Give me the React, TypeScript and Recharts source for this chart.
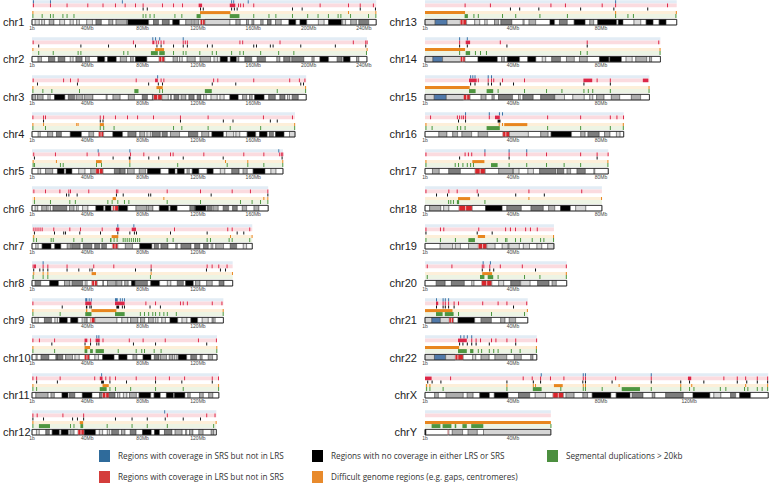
import React from 'react';
import { ComposedChart, XAxis, YAxis, ReferenceArea } from 'recharts';

type Mark = number | [number, number];
type Band = [number, number, string];

// chromosomes and lengths (Mb)
const LEFT_CHROMS = ['chr1', 'chr2', 'chr3', 'chr4', 'chr5', 'chr6', 'chr7', 'chr8', 'chr9', 'chr10', 'chr11', 'chr12'];
const RIGHT_CHROMS = ['chr13', 'chr14', 'chr15', 'chr16', 'chr17', 'chr18', 'chr19', 'chr20', 'chr21', 'chr22', 'chrX', 'chrY'];
const CHROM_LENGTHS: Record<string, number> = {
  chr1: 248.9, chr2: 242.2, chr3: 198.3, chr4: 190.2, chr5: 181.5, chr6: 170.8,
  chr7: 159.3, chr8: 145.1, chr9: 138.4, chr10: 133.8, chr11: 135.1, chr12: 133.3,
  chr13: 114.4, chr14: 107.0, chr15: 102.0, chr16: 90.3, chr17: 83.3, chr18: 80.4,
  chr19: 58.6, chr20: 64.4, chr21: 46.7, chr22: 50.8, chrX: 156.0, chrY: 57.2,
};
const AXIS_TICKS = [0, 40, 80, 120, 160, 200, 240];

// stained cytobands (gneg bands are the gaps)
const BANDS: Record<string, Band[]> = {
  chr1: [[2.3,5.3,'p25'],[7.1,9.1,'p25'],[12.5,15.9,'p50'],[20.1,23.6,'p25'],[27.6,29.9,'p25'],[32.3,34.3,'p25'],[39.6,43.7,'p25'],[46.3,50.2,'p75'],[55.6,58.5,'p50'],[60.8,68.5,'p50'],[69.3,84.4,'p100'],[87.9,91.5,'p75'],[94.3,99.3,'p75'],[101.8,106.7,'p100'],[111.2,115.9,'p50'],[117.1,120.4,'p50'],[121.7,123.4,'acen'],[123.4,125.1,'acen'],[125.1,143.2,'gvar'],[147.5,150.6,'p50'],[155.1,156.6,'p50'],[159.1,160.5,'p50'],[165.5,167.2,'p50'],[170.3,173,'p75'],[176.1,180.3,'p50'],[185.8,190.8,'p100'],[193.8,198.7,'p100'],[207.1,211.3,'p25'],[214.4,223.9,'p100'],[224.4,226.8,'p25'],[230.5,234.6,'p50'],[236.4,243.5,'p75']],
  chr2: [[4.4,6.9,'p50'],[12,16.5,'p75'],[19,23.8,'p75'],[27.7,29.8,'p25'],[31.8,36.3,'p75'],[38.7,41.5,'p50'],[47.5,52.6,'p100'],[54.7,61,'p100'],[63.9,68.4,'p50'],[71.3,73.3,'p50'],[74.8,83.1,'p100'],[91.8,93.9,'acen'],[93.9,96,'acen'],[102.1,105.3,'p50'],[106.7,108.7,'p25'],[112.2,118.1,'p50'],[121.6,129.1,'p50'],[131.7,134.3,'p25'],[136.1,141.5,'p100'],[143.4,147.9,'p100'],[149,149.6,'p25'],[154,158.9,'p75'],[162.9,168.9,'p75'],[177.1,179.3,'p50'],[182.1,186.7,'p75'],[187.9,196.6,'p75'],[202.5,204.1,'p50'],[208.2,214.5,'p100'],[220.7,224.3,'p75'],[225.2,230.1,'p100'],[234.7,236.4,'p50']],
  chr3: [[0,2.8,'p50'],[4,8.1,'p50'],[11.6,13.2,'p25'],[16.3,23.8,'p100'],[26.3,30.8,'p75'],[32,36.5,'p50'],[37.8,44.1,'p50'],[53.7,54.4,'p25'],[58.6,63.8,'p50'],[69.7,74.1,'p50'],[79.8,83.5,'p75'],[87.1,87.8,'p75'],[87.9,90.9,'acen'],[90.9,94,'acen'],[94,98.6,'gvar'],[100.3,100.8,'p25'],[102.8,106.2,'p75'],[107.9,111.3,'p50'],[113.5,117.3,'p75'],[119.5,122.2,'p75'],[124.1,126.1,'p25'],[129.5,134,'p25'],[136,139,'p25'],[143.1,149.2,'p100'],[152.3,155.3,'p50'],[157.3,159.3,'p50'],[161,167.9,'p100'],[171.2,176,'p75'],[179.3,183,'p75'],[184.8,186.3,'p25'],[188.2,192.6,'p75']],
  chr4: [[4.5,6,'p25'],[11.3,15,'p50'],[17.7,21.3,'p75'],[27.7,35.8,'p100'],[41.2,44.6,'p50'],[48.2,50,'acen'],[50,51.8,'acen'],[58.5,65.5,'p100'],[69.4,75.3,'p75'],[78,81.5,'p50'],[83.2,86,'p25'],[87.1,92.8,'p75'],[94.2,97.9,'p75'],[100.1,106.7,'p50'],[113.2,119.9,'p75'],[122.8,127.9,'p50'],[130.1,138.5,'p100'],[140.6,145.9,'p25'],[147.5,150.3,'p25'],[155.6,161.8,'p100'],[164.5,170.1,'p100'],[171.7,174.6,'p75'],[176.1,182.3,'p100'],[186.2,190.2,'p25']],
  chr5: [[4.4,6.3,'p25'],[9.8,15,'p50'],[18.4,23.3,'p100'],[24.6,28.9,'p100'],[33.8,38.4,'p25'],[42.5,46.1,'p50'],[46.1,48.8,'acen'],[48.8,51.4,'acen'],[59.6,63.6,'p75'],[63.9,67.4,'p75'],[69.1,74,'p50'],[77.6,82.1,'p50'],[83.5,93,'p100'],[98.9,103.4,'p100'],[105.1,110.2,'p100'],[112.2,113.8,'p50'],[115.9,120.7,'p100'],[126.6,131.1,'p100'],[136.2,139.5,'p25'],[144.5,149.8,'p75'],[152.7,155.7,'p50'],[159.9,168.5,'p100'],[172.8,176.5,'p25']],
  chr6: [[2.3,4.2,'p25'],[7.1,10.6,'p50'],[11.6,13.4,'p25'],[15.2,25.2,'p75'],[27.1,30.5,'p50'],[32.1,33.5,'p25'],[36.6,40.5,'p25'],[46.2,51.8,'p100'],[53,57.2,'p100'],[58.5,59.8,'acen'],[59.8,62.6,'acen'],[62.7,69.2,'p100'],[75.2,83.2,'p50'],[84.1,87.5,'p50'],[92.1,98.9,'p100'],[100,105,'p100'],[114.2,117.9,'p75'],[118.1,125.8,'p100'],[126.8,130,'p75'],[130.9,134.7,'p50'],[138.3,142.2,'p75'],[145.1,148.5,'p75'],[152.1,155.2,'p50'],[160.6,164.1,'p50']],
  chr7: [[2.8,4.5,'p25'],[7.3,13.8,'p100'],[16.5,20.9,'p100'],[25.5,27.9,'p50'],[28.8,34.9,'p75'],[37.1,43.3,'p75'],[45.4,49,'p75'],[50.5,53.9,'p75'],[58.1,60.1,'acen'],[60.1,62.1,'acen'],[67.5,72.7,'p50'],[77.9,86.7,'p100'],[88.5,91.5,'p75'],[93.3,98.4,'p75'],[104,105.1,'p50'],[107.8,115,'p75'],[117.7,121.4,'p75'],[124.1,127.5,'p75'],[129.6,130.8,'p25'],[132.9,138.5,'p50'],[143.4,148,'p75'],[152.8,155.2,'p25']],
  chr8: [[2.3,6.3,'p75'],[12.8,19.2,'p100'],[23.5,27.5,'p50'],[29,36.7,'p75'],[38.5,39.9,'p25'],[43.2,45.2,'acen'],[45.2,47.2,'acen'],[51.3,51.7,'p75'],[54.6,60.6,'p50'],[61.3,65.1,'p50'],[67.1,69.6,'p50'],[72,74.6,'p100'],[74.7,83.5,'p75'],[85.9,92.3,'p100'],[97.9,100.5,'p25'],[105.1,109.5,'p75'],[111.1,116.7,'p100'],[118.3,121.5,'p50'],[126.3,130.4,'p50'],[135.4,138.9,'p75']],
  chr9: [[2.2,4.6,'p25'],[9,14.2,'p75'],[16.6,18.5,'p25'],[19.9,25.6,'p100'],[28,33.2,'p100'],[36.3,37.9,'p25'],[39,40,'p50'],[42.2,43,'acen'],[43,45.5,'acen'],[45.5,61.5,'gvar'],[65,69.3,'p25'],[71.3,76.6,'p50'],[78.5,81.5,'p50'],[84.3,87.8,'p50'],[89.2,91.2,'p25'],[93.9,96.5,'p25'],[99.8,105.4,'p100'],[108.5,112.1,'p25'],[114.9,119.8,'p100'],[123.1,127.5,'p25'],[130.3,130.5,'p25'],[131.4,132.5,'p25']],
  chr10: [[3,3.8,'p25'],[6.6,12.2,'p75'],[17.3,18.3,'p75'],[18.4,22.3,'p75'],[24.3,29.3,'p50'],[31.1,34.2,'p25'],[38,39.8,'acen'],[39.8,41.6,'acen'],[45.5,48.1,'p25'],[51.1,59.4,'p100'],[62.8,68.8,'p100'],[73.1,75.9,'p50'],[80.3,86.1,'p100'],[88.5,91.9,'p75'],[92.9,97.3,'p50'],[99.3,101.9,'p50'],[103,104.9,'p25'],[105.8,111.9,'p100'],[114.9,119.1,'p75'],[121.7,123.1,'p50'],[127.5,130.6,'p50']],
  chr11: [[2.8,11.7,'p50'],[13.8,16.2,'p50'],[21.7,26.1,'p100'],[27.2,31,'p75'],[36.4,43.4,'p100'],[48.8,51,'p75'],[51,53.4,'acen'],[53.4,55.8,'acen'],[55.8,60.1,'p75'],[61.9,63.6,'p25'],[66.1,68.7,'p25'],[70.5,75.5,'p50'],[77.4,85.9,'p100'],[88.3,92.8,'p100'],[97.2,102.3,'p100'],[103,110.6,'p100'],[112.7,114.5,'p50'],[121.2,123.9,'p50'],[127.8,130.8,'p50']],
  chr12: [[3.2,5.3,'p25'],[10,12.6,'p75'],[14.6,19.8,'p100'],[21.1,26.3,'p100'],[27.6,30.5,'p50'],[33.2,35.5,'acen'],[35.5,37.8,'acen'],[37.8,46,'p100'],[48.7,51.1,'p25'],[54.5,56.2,'p25'],[57.7,62.7,'p75'],[64.7,67.3,'p50'],[71.1,75.3,'p75'],[79.9,86.3,'p100'],[88.6,92.2,'p100'],[95.8,101.2,'p75'],[103.5,108.6,'p50'],[111.1,111.9,'p25'],[113.9,116.4,'p50'],[120.7,123.8,'p50'],[129.6,131.6,'p50']],
  chr13: [[0,4.6,'gvar'],[4.6,10.1,'stalk'],[10.1,16,'gvar'],[16,17.3,'acen'],[17.3,18.9,'acen'],[22.6,24.9,'p25'],[27.2,28.3,'p25'],[31.6,33.4,'p50'],[34.5,39.5,'p75'],[44.6,45.1,'p25'],[47.3,50.3,'p50'],[56.8,58.9,'p100'],[61.1,64.7,'p75'],[67.8,72.8,'p100'],[74.9,76.7,'p50'],[78.5,87.1,'p100'],[87.9,90,'p100'],[95,98.1,'p25'],[100.5,103.7,'p100'],[106.4,109.6,'p100']],
  chr14: [[0,3.6,'gvar'],[3.6,8,'stalk'],[8,16.1,'gvar'],[16.1,17.2,'acen'],[17.2,18.2,'acen'],[24.1,32.9,'p100'],[34.8,36.1,'p50'],[37.4,43,'p100'],[46.7,50.4,'p100'],[53.3,54.9,'p25'],[57.6,61.6,'p75'],[64.3,67.9,'p50'],[70.2,73.8,'p50'],[79.3,83.6,'p100'],[84,89.3,'p100'],[91.4,94.2,'p25'],[95.8,100.8,'p50'],[102,103,'p50']],
  chr15: [[0,4.2,'gvar'],[4.2,9.7,'stalk'],[9.7,17.5,'gvar'],[17.5,19,'acen'],[19,20.5,'acen'],[25.5,27.8,'p50'],[30.5,31.5,'p50'],[33.4,39.8,'p75'],[42.5,43.3,'p25'],[44.5,49.2,'p75'],[52.6,58.8,'p75'],[59,63.4,'p25'],[67.2,72.4,'p25'],[74.9,76.3,'p25'],[78,81.4,'p50'],[84.7,88.5,'p50'],[93.8,98,'p50']],
  chr16: [[6.3,10,'p50'],[12.6,14.8,'p50'],[16.8,21.2,'p50'],[24.2,28.5,'p50'],[35.3,36.8,'acen'],[36.8,38.4,'acen'],[38.4,47,'gvar'],[52.6,56,'p50'],[57.3,66.6,'p100'],[70.8,72.8,'p50'],[74.1,79.2,'p75'],[81.6,84.1,'p50'],[87,88.7,'p25']],
  chr17: [[3.4,6.5,'p50'],[10.8,16.1,'p75'],[22.7,25.1,'acen'],[25.1,27.4,'acen'],[33.5,39.8,'p50'],[40.2,42.8,'p25'],[46.8,49.3,'p25'],[52.1,59.5,'p75'],[60.2,63.1,'p75'],[64.6,66.2,'p50'],[69.1,72.9,'p75'],[76.8,77.2,'p25']],
  chr18: [[2.1,7.2,'p50'],[8.5,10.9,'p25'],[15.4,18.5,'acen'],[18.5,21.5,'acen'],[27.5,35.1,'p100'],[37.2,43.8,'p75'],[48.2,53.8,'p75'],[56.2,59,'p50'],[61.6,66.1,'p100'],[68.5,73.1,'p25']],
  chr19: [[6.9,12.6,'p25'],[13.8,16.1,'p25'],[19.8,24.2,'gvar'],[24.2,26.2,'acen'],[26.2,28.1,'acen'],[28.1,31.9,'gvar'],[35.1,37.8,'p25'],[38.2,42.9,'p25'],[44.7,47.5,'p25'],[50.9,53.1,'p25'],[55.8,58.6,'p25']],
  chr20: [[5.1,9.2,'p75'],[12,17.9,'p75'],[21.3,22.3,'p25'],[25.7,28.1,'acen'],[28.1,30.4,'acen'],[33.5,35.8,'p25'],[39,43.1,'p75'],[43.5,47.8,'p25'],[51.2,56.4,'p75'],[57.8,59.7,'p50']],
  chr21: [[0,3.1,'gvar'],[3.1,7,'stalk'],[7,10.9,'gvar'],[10.9,12,'acen'],[12,13,'acen'],[15,22.6,'p100'],[25.5,30.2,'p75'],[34.4,36.4,'p50'],[38.3,41.2,'p50']],
  chr22: [[0,4.3,'gvar'],[4.3,9.4,'stalk'],[9.4,13.7,'gvar'],[13.7,15,'acen'],[15,17.4,'acen'],[21.7,23.1,'p25'],[25.5,29.2,'p50'],[31.8,37.2,'p50'],[40.6,43.8,'p50'],[48.1,49.1,'p50']],
  chrX: [[4.4,6.1,'p50'],[9.6,17.4,'p50'],[19.2,21.9,'p50'],[24.9,29.3,'p100'],[31.5,37.8,'p100'],[42.5,47.6,'p75'],[50.1,54.8,'p25'],[58.1,60.6,'acen'],[60.6,63,'acen'],[64.1,67.8,'p50'],[71.8,73.9,'p50'],[76,84.5,'p100'],[86.9,93.2,'p100'],[94.2,99.1,'p75'],[103.3,104.5,'p50'],[109.4,117.4,'p75'],[121.8,129.5,'p100'],[131.3,134.5,'p25'],[138.9,141.2,'p75'],[143,148,'p100']],
  chrY: [[0,0.5,'p100'],[10.3,10.6,'acen'],[10.6,10.9,'acen'],[12.4,17.1,'p50'],[19.6,23.8,'p50'],[26.6,57.2,'gvar']],
};

// Regions with coverage in SRS but not in LRS (blue)
const SRS_ONLY: Record<string, Mark[]> = {
  chr1: [0.7, 13, 65, 144, 145.5, 156],
  chr2: [87, 89, 92, 109],
  chr3: [90.5],
  chr4: [],
  chr5: [47.5, 70.4, 178.1],
  chr6: [],
  chr7: [61.7, 73.3],
  chr8: [7.7],
  chr9: [[38.5, 40], 41, 42.5, [60, 62], 63.5, 65, 66.5],
  chr10: [46.5, 48],
  chr11: [50],
  chr12: [95.6],
  chr13: [86.4],
  chr14: [15.5, 19],
  chr15: [20.5, 21.5, 22.5, 28.5, 30],
  chr16: [18.2, 29, 33.6, 35],
  chr17: [27, 38, 46],
  chr18: [],
  chr19: [],
  chr20: [26.2, 29.5],
  chr21: [5, 8, 9, 10.5],
  chr22: [16, 17.5, 19, 21],
  chrX: [52.6, 71.7, 72.7, 102.6],
  chrY: [],
};

// Regions with coverage in LRS but not in SRS (red)
const LRS_ONLY: Record<string, Mark[]> = {
  chr1: [0.7, 13, 25, 40, 51, 60, 67, 74.5, 80, 94, 102, 108.5, [120.5, 123], [143, 147], 149, 150.5, 152.5, 160, 208, 228.5, 237, 246.5],
  chr2: [0.5, 73, [87, 88.5], 89.5, 91, 93, 95, 109, 110.5, 112, 150, 152, 179, 232, 241, 242],
  chr3: [0.5, 22.5, 27.5, 33, 75, [89, 91], 93, 95, 131, 134, 160, 186, 193, 197],
  chr4: [0.3, 8, 9.4, 49, 51.4, 60, 68.7, 76, 87.5, 107, 127, 167, 188],
  chr5: [0.9, 16.6, 39.5, 48, 70.9, 80.5, 99.8, 101.7, 123.9, 152.8, 167.3, 178.8, 180.2, 181],
  chr6: [1, 9.4, 19.8, 26.3, 27.5, 40.7, 60.7, 61.7, 97.4, 121.5, 144.4, 157.6, 170.2],
  chr7: [1, 2.5, 4, 5.5, 7, 15.4, 27, 34.7, 50.4, [60.7, 63.1], [72.1, 75.2], 102.7, 141.2, 144.4, 157.1],
  chr8: [0.5, 1.5, 2.2, 7.7, 11.1, 25, 44.3, 58.8, 85.8, 126.3, 129.9, 134.7, 140.7],
  chr9: [0.3, [38.5, 43], [60, 67], 82, 89, 107, 109, 112, 130, 137],
  chr10: [0.3, 5, 16, [38, 40], 42, [46, 49], 51, 70, 80, 96, 120, 133],
  chr11: [0.3, 3, 20, 45, [49, 51], 53, 56, 60, 75, 89, 99, 110, 130, 134.5],
  chr12: [0.3, 3.4, 22, 37, 97.5, 126, 132],
  chr13: [18, 29.5, 57, 63.6, 80.3, 86.4, 110],
  chr14: [15.5, [18.5, 20.5], 34, 73.5, 106],
  chr15: [[20, 23.5], 24, 28.5, 30, 31, 35, 45, [72, 76], 78, 84, [99, 101.5]],
  chr16: [2.3, 14.5, 15.5, 16.5, 17.3, 18.2, 29, [31.8, 34], 55.5, 70.5, 84, 87, 90],
  chr17: [0.2, 18, 19.5, 21, 27, 38, 46, 55, 70.5, 78, 83],
  chr18: [0.2, 10.6, 14.4, 23.5, 47, 71],
  chr19: [0.2, 6.8, 8.3, 24.2, 36.4, 38.6, 40.9, 45.5, 47.7, 50.8],
  chr20: [0.8, 12, 25.8, 26.5, 29.2, 34, 44, 64],
  chr21: [[5, 6], 8, 9, 10.5, 13, 15, 26, 33, 37, 46],
  chr22: [[15, 19], 21, 23, 25, 30, 32, 37, 41, 50.5],
  chrX: [[0, 3], 11.4, 44.4, 48.5, 52.3, 56.8, 62.9, 71.7, 72.7, 86.4, 102.6, [119.5, 121], 135.6, 141.7, 145.5, 150.8, 155.5],
  chrY: [],
};

// Regions with no coverage in either LRS or SRS (black)
const NO_COVERAGE: Record<string, Mark[]> = {
  chr1: [80, 83, 121.5, 123.5, 144, 146, 148, 188, 195, 237, 248],
  chr2: [4.5, 35, 55, 74.5, 90, 93, 102, 109, 112, 126.5, 130, 160, 162, 172, 174, 194, 219, 241],
  chr3: [3.6, 32.5, 84, 91, 94, 130, 147, 194, 196],
  chr4: [8, 49, 51, 107, 138, 145, 172, 177],
  chr5: [1.4, 58.3, [70, 71.2], 84.1, 91.3, 109, 137.9, 180.5],
  chr6: [24.6, 26.3, 32.3, 60.7, 65.6, 84, 85.5, 129.2, 170.2],
  chr7: [1.4, 15.9, 22.6, 23.9, 34.2, 49.2, 61.7, 70.4, 73.7, 75.2, 99.8, 126.3, 148, 152.8],
  chr8: [0.9, 5.3, 7.7, 11.1, 25, 33.5, 41.5, 43.1, 74.5, 85.8, 125.8, 135.9, 139.6],
  chr9: [21.5, [39, 40], 41.5, 42.5, [61, 63], 65, 66.5, 85, 92.5],
  chr10: [14, 38, 42, 46.5, 48, 73, 89, 126],
  chr11: [3, 18, [50, 52], 56, 68, 89, 108, 130],
  chr12: [0.3, 8, 29, 32.5, 37, 60, 72, 83, 96, 109, 121.5],
  chr13: [38.6, 42.8, 51.5, 70.5, 85.6, 101],
  chr14: [15.5, 19, 37, 73.5],
  chr15: [20.5, 22.5, 28.5, 30, 34, 40, 72, 84],
  chr16: [15, 18.2, [33, 34.3]],
  chr17: [15.5, 38, 78],
  chr18: [5, 10, 24, 41, 54],
  chr19: [0.2, 23.5, 30.3],
  chr20: [25.8, 29.2, 31, 50],
  chr21: [5, 8, 9, 10.5, 13, 40],
  chr22: [15.5, 17, 19, 21, 23, 29, 41],
  chrX: [1, 3, 7, 37, 49, 52.3, 71.5, 72.7, 84.8, 102.6, 116, 120, 126.5, 141.7, 146, 150.8, 155.5],
  chrY: [],
};

// Difficult genome regions (orange)
const DIFFICULT: Record<string, Mark[]> = {
  chr1: [0.3, [121.5, 143.5], 228.5, 248.3],
  chr2: [0.3, [89, 95.5], 242],
  chr3: [0.3, [90, 94.5], 197.5],
  chr4: [0.3, 8, 32, 33, [49, 52], 189.6],
  chr5: [0.5, 17.3, [46.3, 50.4], 70.4, 139.6, 155.7, 181],
  chr6: [1.4, [58.3, 60.7], 95, 167.3, 170.2],
  chr7: [0.9, [57.6, 62.4], 143.2, 158.8],
  chr8: [0.9, 7.7, 11.1, [43.1, 46.3], 85.8, 144.6],
  chr9: [0.3, [39, 40], [43, 61], 137.9],
  chr10: [0.3, [38, 42], 133.3],
  chr11: [0.3, [51, 55.5], 134.6],
  chr12: [0.3, [34.5, 37], 132.8],
  chr13: [[0, 18.2], 86.4, 114],
  chr14: [[0, 18.2], 106.6],
  chr15: [[0, 20.3], 101.6],
  chr16: [0.2, 33.5, 35, [36, 46.5], 89.9],
  chr17: [0.2, [21.5, 27], 82.9],
  chr18: [[15, 20.5], 47, 80],
  chr19: [[24, 27.3], 58.2],
  chr20: [[26, 30.5], 64],
  chr21: [[0, 12.5], 46.3],
  chr22: [[0, 15.5], 50.4],
  chrX: [0.5, 2, 37, 49, 50, [58.6, 62.6], 71.7, 72.7, 88, 116, 121, 145.5, 155.5],
  chrY: [[0, 57.2]],
};

// Segmental duplications > 20kb (green)
const SEG_DUPS: Record<string, Mark[]> = {
  chr1: [0.3, 7, 13, 15, 22, 25, 30, 80, 82, 85, 88, 103, 108, [119, 122], [143, 150], 160, 171, 176, 188, 199, 206.5, 214, 221, 223, 230, 243, 248.3],
  chr2: [4.5, 15, 33, 35, 66, 69, [86, 91], [92, 96], 102, 109, 111, 121, 130, 133, 144, 150, 152.5, 165, 178, 189, 241.5],
  chr3: [0.3, 7.5, 14, 34, [74, 77], 92, 94, [125, 130], 177, 197.5],
  chr4: [0.3, 9.4, 49, 51.5, 59, 102, 108, 127, 143, 165, 189.6],
  chr5: [0.5, 1.5, 20.2, 22.2, 46.3, 49.9, 70.4, 105, 140.8, 155.7, 167.3, 181],
  chr6: [1.4, 13, 27, 31, 54.5, 57.6, 61.7, 66.5, 69.7, 97.4, 121.5, 150.4, 158.8, 164.9, 170.2],
  chr7: [0.9, 2.9, 13.5, 15, 29.9, 35.9, 50.4, [56.4, 57.5], 59, 61.2, 65.6, 67, 68.5, 70, 71.5, 73, 74.5, 76, 77.5, 97.4, 101.7, 126.3, 128.7, 142.2, 144.4, 157.1],
  chr8: [0.5, 7.7, 11.1, 85.3],
  chr9: [0.3, 20, [38.5, 43], [60, 67], 78, 81, 84, 87, 89, 92, 95, 97.5, 104, 137.9],
  chr10: [0.3, 16, [38, 40], [42, 44], [46, 52], 62, 75, 79, 81, 88, 93, 133.3],
  chr11: [0.3, 3, [49, 54], 56, 60, 71, 89, 109, 134.6],
  chr12: [0.3, [5, 13], 27.5, 30, [35, 37], 54, 72, 83, 97.5, 131],
  chr13: [[18, 19.5], 22, 24, 35, 41, 52, 64.5, 86.4, 92, 94.5, 113.8],
  chr14: [15.5, [18.5, 20.5], 22.7, 25, 27.7, 70.5, 73.5, 106.6],
  chr15: [[20, 23], [28, 31], 33, 45, 55, 62, 72, 74, 76, 84, 101.6],
  chr16: [0.2, 3, 14.5, 16, 18, [28, 34], 55.5, 70.5, 84, 89.9],
  chr17: [0.2, 13.5, 15, 17, 19, 20.5, 21.8, [30, 33], 38, 46, 55, 63, 70.5, 82.9],
  chr18: [10.5, 11.5, 12.7, [14.5, 15.5], 27],
  chr19: [0.2, 6.8, 13.6, [19.7, 22.7], 32.6, 36.4, 37, 40.9, 43.2, 48.5, 52.3, 53.8, 58.2],
  chr20: [0.8, [25, 27], [28.5, 31], 33, 45, 52, 64],
  chr21: [[5, 8], [9, 13], 15, 30, 45],
  chr22: [[15, 19], [20.5, 22], 24, 25.5, 29, 31, 33, 39, 43, 50.4],
  chrX: [0.5, 2, 8, 37, [49, 53], 61.5, 71.7, 72.7, 80.3, [89.4, 97.7], 102.6, 116, 120, 122, 134, 136.5, 145, 146.5, 150.8, 153, 155.5],
  chrY: [[3, 7], [8, 12], [13.5, 14.2], [17, 19], [21, 26.5], 57],
};

const STAIN_FILL: Record<string, string> = {
  gneg: '#ffffff', p25: '#d9d9d9', p50: '#adadad', p75: '#7d7d7d', p100: '#000000',
  acen: '#d8262c', gvar: '#d6d6d6', stalk: '#5079a9',
};

const TRACKS = [
  { data: SRS_ONLY, y1: 0.2, y2: 3.6, bg: '#e2ecf5', color: '#3a73a6' },
  { data: LRS_ONLY, y1: 3.6, y2: 7.2, bg: '#fbdbdf', color: '#dc2748' },
  { data: NO_COVERAGE, y1: 7.6, y2: 10.6, bg: '', color: '#111111' },
  { data: DIFFICULT, y1: 11.1, y2: 14.1, bg: '#fdefd9', color: '#e8861f' },
  { data: SEG_DUPS, y1: 14.1, y2: 18.1, bg: '#edf4e4', color: '#4e9640' },
];

const LEGEND = [
  { label: 'Regions with coverage in SRS but not in LRS', color: '#2f6b9b', x: 99, y: 450 },
  { label: 'Regions with coverage in LRS but not in SRS', color: '#d43d3b', x: 99, y: 471 },
  { label: 'Regions with no coverage in either LRS or SRS', color: '#000000', x: 312, y: 450 },
  { label: 'Difficult genome regions (e.g. gaps, centromeres)', color: '#e88a2c', x: 312, y: 471 },
  { label: 'Segmental duplications > 20kb', color: '#4c8f3f', x: 547, y: 450 },
];

const PITCH = 37.27;
const PLOT_H = 25;
const IDEO_Y1 = 19.4;

function fillBands(bands: Band[], len: number): Band[] {
  const out: Band[] = [];
  let pos = 0;
  bands.forEach(([s, e, st]) => {
    if (s > pos + 0.01) out.push([pos, s, 'gneg']);
    out.push([s, e, st]);
    pos = e;
  });
  if (pos < len - 0.01) out.push([pos, len, 'gneg']);
  return out;
}

interface PanelProps {
  chrom: string;
  left: number;
  top: number;
  domainMax: number;
  plotWidth: number;
  tickW: number;
  side: 'left' | 'right';
}

const ChromPanel = ({ chrom, left, top, domainMax, plotWidth, tickW, side }: PanelProps) => {
  const len = CHROM_LENGTHS[chrom];
  const ml = 8;
  const mr = side === 'left' ? 12 : 4;
  const areas: React.ReactNode[] = [];

  TRACKS.forEach((t, ti) => {
    if (t.bg) {
      areas.push(
        <ReferenceArea key={`bg${ti}`} x1={0} x2={len} y1={t.y1} y2={t.y2} fill={t.bg} fillOpacity={1} stroke="none" ifOverflow="visible" />
      );
    }
  });
  TRACKS.forEach((t, ti) => {
    (t.data[chrom] || []).forEach((m, mi) => {
      const s = Array.isArray(m) ? m[0] : m;
      const e = Array.isArray(m) ? m[1] : m;
      const w = Math.max(e - s, tickW);
      areas.push(
        <ReferenceArea key={`t${ti}-${mi}`} x1={s} x2={s + w} y1={t.y1} y2={t.y2} fill={t.color} fillOpacity={1} stroke="none" ifOverflow="visible" />
      );
    });
  });
  fillBands(BANDS[chrom], len).forEach(([s, e, st], bi) => {
    areas.push(
      <ReferenceArea key={`b${bi}`} x1={s} x2={e} y1={IDEO_Y1} y2={PLOT_H} fill={STAIN_FILL[st]} fillOpacity={1}
        stroke={st === 'acen' ? '#ffffff' : '#3a3a3a'} strokeWidth={0.45} ifOverflow="visible" />
    );
  });
  areas.push(
    <ReferenceArea key="outline" x1={0} x2={len} y1={IDEO_Y1} y2={PLOT_H} fill="none" fillOpacity={0} stroke="#222" strokeWidth={0.8} ifOverflow="visible" />
  );

  const ticks = AXIS_TICKS.filter((v) => v <= len);

  return (
    <div style={{ position: 'absolute', left: left - ml, top }}>
      <ComposedChart width={plotWidth + ml + mr} height={PLOT_H + 8} margin={{ top: 0, right: mr, bottom: 0, left: ml }}>
        <XAxis
          type="number"
          dataKey="x"
          domain={[0, domainMax]}
          allowDataOverflow
          ticks={ticks}
          interval={0}
          tickFormatter={(v: number) => (v === 0 ? '1b' : `${v}Mb`)}
          tick={{ fontSize: 5, fill: '#444', fontFamily: 'Liberation Sans, Arial, sans-serif' }}
          tickLine={false}
          axisLine={false}
          tickSize={0}
          tickMargin={1}
          height={8}
        />
        <YAxis type="number" domain={[0, PLOT_H]} allowDataOverflow reversed hide />
        {areas}
      </ComposedChart>
    </div>
  );
};

const labelStyle: React.CSSProperties = {
  position: 'absolute',
  fontFamily: 'Liberation Sans, Arial, sans-serif',
  fontSize: 11,
  color: '#222',
  lineHeight: '10px',
  height: 10,
  whiteSpace: 'nowrap',
};

export default function App() {
  return (
    <div style={{ position: 'absolute', left: 0, top: 0, width: 770, height: 483, overflow: 'hidden', background: '#fff' }}>
      {LEFT_CHROMS.map((c, i) => (
        <React.Fragment key={c}>
          <div style={{ ...labelStyle, left: 3, top: i * PITCH + 22.2 - 5 }}>{c}</div>
          <ChromPanel chrom={c} left={32} top={i * PITCH} domainMax={250.2} plotWidth={346} tickW={0.7} side="left" />
        </React.Fragment>
      ))}
      {RIGHT_CHROMS.map((c, i) => (
        <React.Fragment key={c}>
          <div style={{ ...labelStyle, left: 358, width: 59, textAlign: 'right', top: i * PITCH + 22.2 - 5 }}>{c}</div>
          <ChromPanel chrom={c} left={425} top={i * PITCH} domainMax={156.8} plotWidth={345} tickW={0.46} side="right" />
        </React.Fragment>
      ))}
      {LEGEND.map((l) => (
        <React.Fragment key={l.label}>
          <div style={{ position: 'absolute', left: l.x, top: l.y, width: 11, height: 12, background: l.color }} />
          <div style={{ position: 'absolute', left: l.x + 19, top: l.y, lineHeight: '12px', fontSize: 8.2, fontFamily: 'Open Sans, sans-serif', color: '#333', whiteSpace: 'nowrap' }}>
            {l.label}
          </div>
        </React.Fragment>
      ))}
    </div>
  );
}
